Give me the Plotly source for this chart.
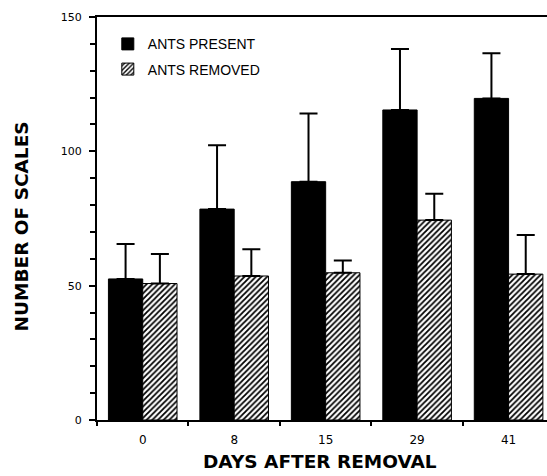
import plotly.graph_objects as go

days = ["0", "8", "15", "29", "41"]
present_mean = [52.5, 78.5, 88.7, 115.4, 119.7]
present_upper = [65.5, 102.3, 114.1, 138.1, 136.5]
removed_mean = [50.8, 53.6, 54.8, 74.4, 54.3]
removed_upper = [61.8, 63.6, 59.4, 84.2, 68.9]

present_err = [u - m for u, m in zip(present_upper, present_mean)]
removed_err = [u - m for u, m in zip(removed_upper, removed_mean)]
zeros = [0] * len(days)

fig = go.Figure()
fig.add_trace(go.Bar(
    x=days, y=present_mean, name="ANTS PRESENT",
    marker=dict(color="black", line=dict(color="black", width=1)),
    error_y=dict(type="data", array=present_err, arrayminus=zeros, symmetric=False,
                 color="black", thickness=2, width=9),
    legendgroup="a",
))
fig.add_trace(go.Bar(
    x=days, y=removed_mean, name="ANTS REMOVED",
    marker=dict(color="white", line=dict(color="black", width=1),
                pattern=dict(shape="/", size=4, solidity=0.45, fgcolor="black", bgcolor="white")),
    error_y=dict(type="data", array=removed_err, arrayminus=zeros, symmetric=False,
                 color="black", thickness=2, width=9),
    legendgroup="b",
))

fig.update_layout(
    template="none",
    width=547, height=476,
    margin=dict(l=97, r=0, t=17, b=56, autoexpand=False),
    paper_bgcolor="white", plot_bgcolor="white",
    barmode="group", bargap=0.25, bargroupgap=0,
    showlegend=True,
    legend=dict(x=0.024, y=0.972, xanchor="left", yanchor="top",
                font=dict(family="Liberation Sans, Arial", size=14, color="black"),
                bgcolor="rgba(0,0,0,0)", traceorder="grouped", tracegroupgap=4),
    font=dict(family="DejaVu Sans", color="black"),
    xaxis=dict(type="category", range=[-0.5, 4.42], automargin=False, showline=True,
               linecolor="black", linewidth=1.5, mirror=True, ticks="outside",
               tickson="boundaries", ticklen=4, ticklabelstandoff=8,
               tickcolor="black", tickwidth=1.5, showgrid=False, zeroline=False,
               tickfont=dict(family="DejaVu Sans", size=12, color="black")),
    yaxis=dict(range=[0, 150], automargin=False, tickvals=[0, 50, 100, 150], showline=True,
               linecolor="black", linewidth=2, ticks="outside", ticklen=6,
               ticklabelstandoff=5,
               tickcolor="black", tickwidth=1.5, showgrid=False, zeroline=False,
               minor=dict(dtick=10, tick0=0, ticks="outside", ticklen=5,
                          tickcolor="black", tickwidth=1.5, showgrid=False),
               tickfont=dict(family="DejaVu Sans", size=11, color="black")),
    annotations=[
        dict(text="<b>DAYS AFTER REMOVAL</b>", xref="paper", yref="paper",
             x=(320 - 97) / 450, y=-(461.7 - 420) / 403, xanchor="center", yanchor="middle",
             showarrow=False, font=dict(family="DejaVu Sans", size=18.5, color="black")),
        dict(text="<b>NUMBER OF SCALES</b>", xref="paper", yref="paper",
             x=-(97 - 20.5) / 450, y=(420 - 227) / 403, xanchor="center", yanchor="middle",
             textangle=-90, showarrow=False,
             font=dict(family="DejaVu Sans", size=18.5, color="black")),
    ],
)

fig.write_html("out.html", config={"displayModeBar": False},
               post_script="document.body.style.margin='0';")
